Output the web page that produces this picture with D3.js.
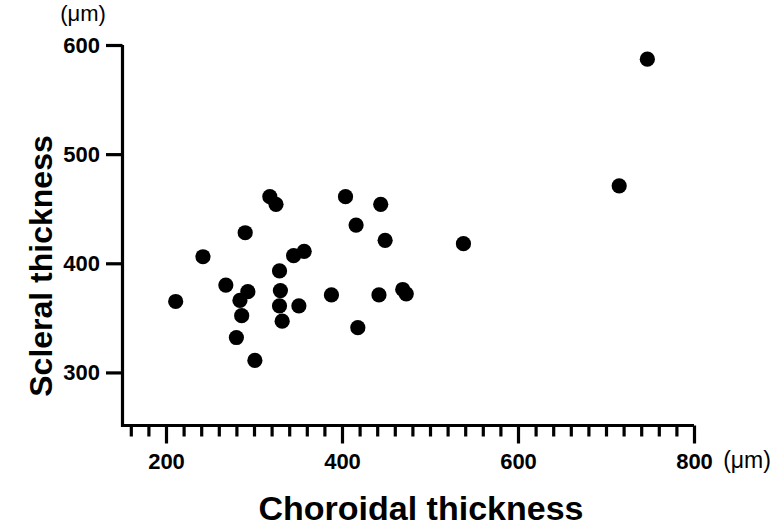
<!DOCTYPE html>
<html>
<head>
<meta charset="utf-8">
<script src="https://cdn.jsdelivr.net/npm/d3@7"></script>
<style>
  html, body { margin: 0; padding: 0; background: #fff; }
  svg { display: block; }
  text { font-family: Arial, "Liberation Sans", Helvetica, sans-serif; fill: #000; }
</style>
</head>
<body>
<svg id="chart" width="774" height="526"></svg>
<script>
// Data: choroidal thickness (x, µm) vs scleral thickness (y, µm)
const choroidal = [211, 242, 290, 318, 325, 268, 293, 284, 286, 280, 301, 329, 330, 329, 332,
                   351, 345, 357, 388, 404, 444, 416, 449, 538, 442, 469, 473, 418, 747, 715];
const scleral   = [365, 406, 428, 461, 454, 380, 374, 366, 352, 332, 311, 393, 375, 361, 347,
                   361, 407, 411, 371, 461, 454, 435, 421, 418, 371, 376, 372, 341, 587, 471];
const xMajorTicks = [200, 400, 600, 800];
const xMinorTicks = d3.range(160, 800, 20).filter(v => v % 200 !== 0);
const yTicks = [300, 400, 500, 600];
const xTitle = "Choroidal thickness";
const yTitle = "Scleral thickness";
const unitLabel = "(\u03bcm)";

const svg = d3.select("#chart");
const x = d3.scaleLinear().domain([150, 800]).range([122, 694]);
const y = d3.scaleLinear().domain([250, 600]).range([427, 45]);
const axisY = 425.5, axisX = 122.5;

// Axes lines
const axes = svg.append("g").attr("stroke", "#000").attr("stroke-width", 3.2).attr("fill", "none");
axes.append("path")
  .attr("d", `M${axisX},${y(600)} L${axisX},${axisY} L${x(800)},${axisY}`)
  .attr("stroke-linejoin", "miter");

// Y axis ticks
const yAxis = d3.axisLeft(y).tickValues(yTicks).tickSize(16.5).tickSizeOuter(0).tickPadding(6);
const gy = svg.append("g").attr("transform", `translate(${axisX},0)`).call(yAxis);
gy.select(".domain").remove();
gy.selectAll(".tick line").attr("stroke", "#000").attr("stroke-width", 3.2);
gy.selectAll(".tick text").attr("font-size", 22).attr("font-weight", "bold")
  .attr("font-family", "Arial, 'Liberation Sans', sans-serif").attr("fill", "#000");

// X axis major ticks
const xAxis = d3.axisBottom(x).tickValues(xMajorTicks).tickSize(18).tickSizeOuter(0).tickPadding(10);
const gx = svg.append("g").attr("transform", `translate(0,${axisY})`).call(xAxis);
gx.select(".domain").remove();
gx.selectAll(".tick line").attr("stroke", "#000").attr("stroke-width", 3.2);
gx.selectAll(".tick text").attr("font-size", 22).attr("font-weight", "bold")
  .attr("font-family", "Arial, 'Liberation Sans', sans-serif").attr("fill", "#000");

// X axis minor ticks
const xMinor = d3.axisBottom(x).tickValues(xMinorTicks).tickSize(11).tickSizeOuter(0).tickFormat("");
const gxm = svg.append("g").attr("transform", `translate(0,${axisY})`).call(xMinor);
gxm.select(".domain").remove();
gxm.selectAll(".tick line").attr("stroke", "#000").attr("stroke-width", 3.2);

// Points
svg.append("g").selectAll("circle")
  .data(choroidal.map((c, i) => [c, scleral[i]]))
  .join("circle")
  .attr("cx", d => x(d[0]))
  .attr("cy", d => y(d[1]))
  .attr("r", 7.6)
  .attr("fill", "#000");

// Unit labels
svg.append("text").attr("x", 83).attr("y", 21).attr("text-anchor", "middle")
  .attr("font-size", 22).text(unitLabel);
svg.append("text").attr("x", 747).attr("y", 468).attr("text-anchor", "middle")
  .attr("font-size", 23).text(unitLabel);

// Axis titles
svg.append("text").attr("x", 421).attr("y", 520).attr("text-anchor", "middle")
  .attr("font-size", 34).attr("font-weight", "bold").text(xTitle);
svg.append("text").attr("transform", "translate(52,266) rotate(-90)").attr("text-anchor", "middle")
  .attr("font-size", 32).attr("font-weight", "bold").text(yTitle);
</script>
</body>
</html>
